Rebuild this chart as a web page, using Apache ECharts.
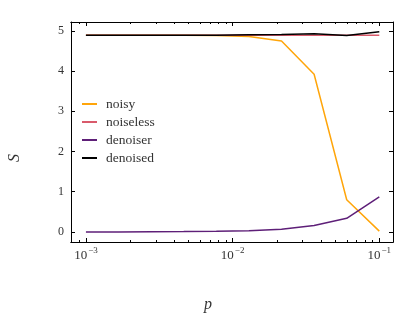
<!DOCTYPE html>
<html><head><meta charset="utf-8">
<script src="https://cdn.jsdelivr.net/npm/echarts@6/dist/echarts.min.js"></script>
<style>html,body{margin:0;padding:0;background:#fff}#c{width:416px;height:317px}</style>
</head><body><div id="c"></div>
<script>
var p = [0.001, 0.001668, 0.002783, 0.004642, 0.007743, 0.012915, 0.021544, 0.035938, 0.059948, 0.1];
var noisy     = [4.89, 4.89, 4.89, 4.89, 4.885, 4.86, 4.75, 3.92, 0.80, 0.02];
var noiseless = [4.89, 4.89, 4.89, 4.89, 4.89, 4.89, 4.89, 4.89, 4.89, 4.89];
var denoiser  = [0.0, 0.0, 0.004, 0.008, 0.015, 0.03, 0.07, 0.16, 0.34, 0.87];
var denoised  = [4.89, 4.89, 4.89, 4.89, 4.89, 4.90, 4.91, 4.93, 4.885, 4.98];
var xMajor = [0.001, 0.01, 0.1];
var xMinor = [0.0008, 0.0009, 0.002, 0.003, 0.004, 0.005, 0.006, 0.007, 0.008, 0.009,
              0.02, 0.03, 0.04, 0.05, 0.06, 0.07, 0.08, 0.09];
var yTicks = [0, 1, 2, 3, 4, 5];
var names = ['noisy', 'noiseless', 'denoiser', 'denoised'];
var colors = ['#ffa50a', '#d95a6b', '#5e1f78', '#000000'];
var xLabel = 'p', yLabel = 'S';

var FONT = 'Liberation Serif';
var XMIN = 0.000791, XMAX = 0.124;
function pairs(ys){ return p.map(function(x,i){ return [x, ys[i]]; }); }

function xAxisBase(pos, tickVals, len, labels){
  return {
    type: 'log', logBase: 10, min: XMIN, max: XMAX, position: pos, gridIndex: 0,
    axisLine: {show: true, onZero: false, lineStyle: {color: '#000', width: 1}},
    axisTick: {show: true, inside: true, length: len, customValues: tickVals, lineStyle: {color: '#000', width: 1}},
    axisLabel: labels ? {
      show: true, customValues: xMajor, margin: 4, fontFamily: FONT,
      formatter: function(v){ var e = Math.round(Math.log10(v)); return '{b|10}{s|' + (e < 0 ? '−' : '') + Math.abs(e) + '}'; },
      rich: {b: {fontFamily: FONT, fontSize: 13, color: '#333', verticalAlign: 'bottom', lineHeight: 16},
             s: {fontFamily: FONT, fontSize: 9, color: '#333', verticalAlign: 'top', lineHeight: 16, padding: [0,0,7,1]}}
    } : {show: false},
    splitLine: {show: false}, minorTick: {show: false}
  };
}
function yAxisBase(pos, labels){
  return {
    type: 'value', min: -0.25, max: 5.22, position: pos, gridIndex: 0,
    axisLine: {show: true, onZero: false, lineStyle: {color: '#000', width: 1}},
    axisTick: {show: true, inside: true, length: 4, customValues: yTicks, lineStyle: {color: '#000', width: 1}},
    axisLabel: labels ? {show: true, customValues: yTicks, margin: 7, fontFamily: FONT, fontSize: 12, color: '#333'} : {show: false},
    splitLine: {show: false}
  };
}

var xAxes = [
  xAxisBase('bottom', xMajor, 4, true),
  xAxisBase('bottom', xMinor, 2, false),
  xAxisBase('top', xMajor, 4, false),
  xAxisBase('top', xMinor, 2, false)
];

var chart = echarts.init(document.getElementById('c'), null, {renderer: 'canvas'});
chart.setOption({
  animation: false,
  backgroundColor: '#fff',
  grid: {left: 71, right: 23, top: 22, bottom: 75, containLabel: false, outerBoundsMode: 'none'},
  xAxis: xAxes,
  yAxis: [yAxisBase('left', true), yAxisBase('right', false)],
  graphic: [
    {type: 'text', x: 208, y: 305, style: {text: xLabel, font: 'italic 16px "Liberation Serif"', fill: '#333', align: 'center', verticalAlign: 'middle'}},
    {type: 'text', x: 15, y: 158, rotation: Math.PI / 2, style: {text: yLabel, font: 'italic 16px "Liberation Serif"', fill: '#333', align: 'center', verticalAlign: 'middle'}}
  ],
  legend: {
    orient: 'vertical', left: 82, top: 96, padding: 0, itemWidth: 15, itemHeight: 2, itemGap: 2,
    icon: 'rect', data: names,
    textStyle: {fontFamily: FONT, fontSize: 13.5, color: '#333', lineHeight: 16, padding: [0,0,0,4]}
  },
  series: [noisy, noiseless, denoiser, denoised].map(function(ys, i){
    return {
      name: names[i], type: 'line', xAxisIndex: 0, yAxisIndex: 0, data: pairs(ys),
      symbol: 'none', showSymbol: false, smooth: false,
      lineStyle: {color: colors[i], width: 1.5}, itemStyle: {color: colors[i]}, z: 2 + i
    };
  })
});
</script></body></html>
